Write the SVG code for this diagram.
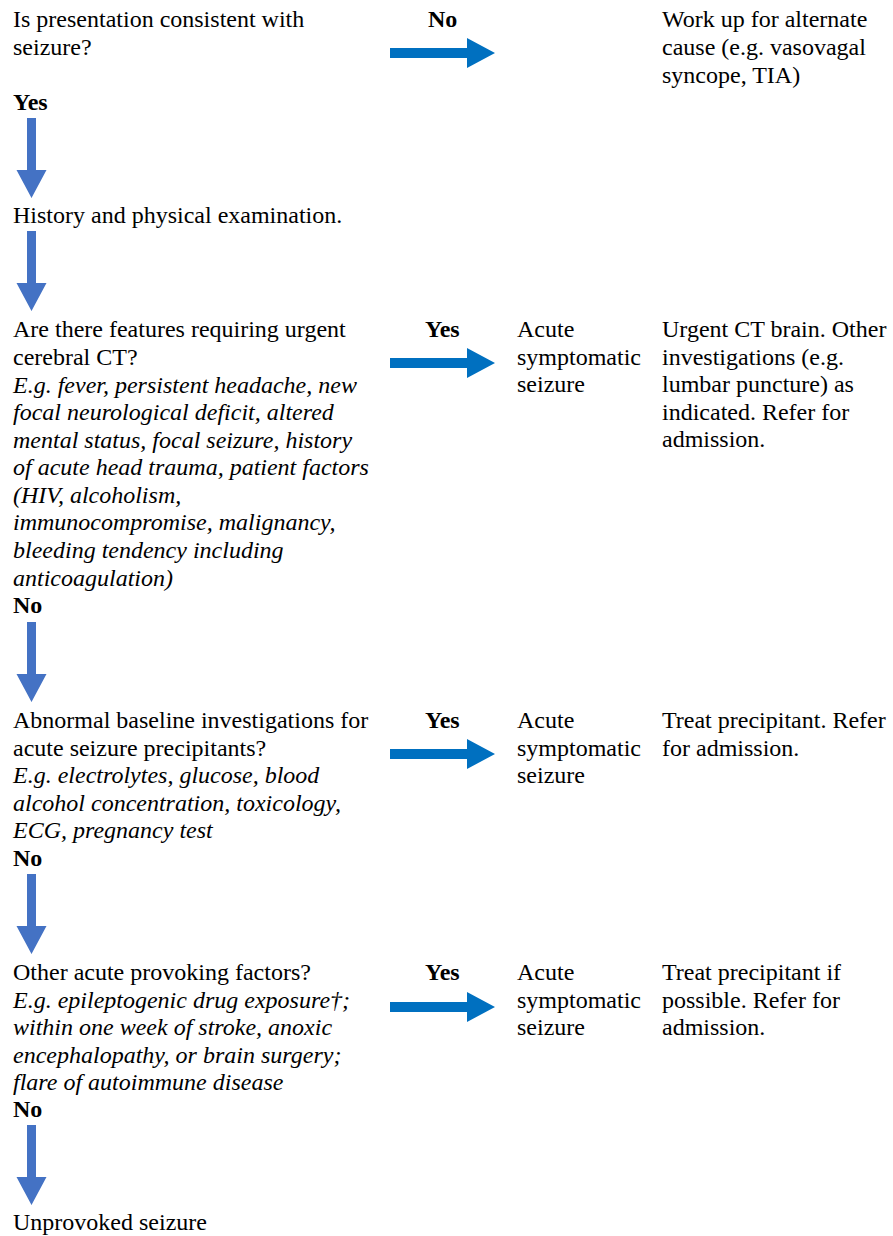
<svg xmlns="http://www.w3.org/2000/svg" xmlns:xlink="http://www.w3.org/1999/xlink" width="893" height="1236" viewBox="0 0 893 1236" font-family="'Liberation Serif', 'Times New Roman', Times, serif">
<style>
text{font-family:'Liberation Serif','Times New Roman',Times,serif;font-size:24px;fill:#000}
.b{font-weight:bold}
.i{font-style:italic}
.down{fill:#4472C4}
.right{fill:#0070C0}
</style>
<defs>
<path id="dArrow" d="M-4.5,0 H4.5 V52 H15 L0,80 L-15,52 H-4.5 Z"/>
<path id="rArrow" d="M0,-5 H77 V-15 L105,0 L77,15 V5 H0 Z"/>
</defs>
<rect width="893" height="1236" fill="#fff"/>
<g id="connectors">
<use xlink:href="#dArrow" class="down" transform="translate(31.5,118)"/>
<use xlink:href="#dArrow" class="down" transform="translate(31.5,231)"/>
<use xlink:href="#dArrow" class="down" transform="translate(31.5,622)"/>
<use xlink:href="#dArrow" class="down" transform="translate(31.5,874)"/>
<use xlink:href="#dArrow" class="down" transform="translate(31.5,1125)"/>
<use xlink:href="#rArrow" class="right" transform="translate(390,53)"/>
<use xlink:href="#rArrow" class="right" transform="translate(390,363)"/>
<use xlink:href="#rArrow" class="right" transform="translate(390,754)"/>
<use xlink:href="#rArrow" class="right" transform="translate(390,1007)"/>
<text class="b" x="428" y="27">No</text>
<text class="b" x="13" y="110">Yes</text>
<text class="b" x="425" y="337">Yes</text>
<text class="b" x="13" y="613">No</text>
<text class="b" x="425" y="728">Yes</text>
<text class="b" x="13" y="866">No</text>
<text class="b" x="425" y="980">Yes</text>
<text class="b" x="13" y="1117">No</text>
</g>
<g id="n-presentation">
<text x="13" y="27">Is presentation consistent with</text>
<text x="13" y="55">seizure?</text>
</g>
<g id="n-alternate">
<text x="662" y="27">Work up for alternate</text>
<text x="662" y="55">cause (e.g. vasovagal</text>
<text x="662" y="83">syncope, TIA)</text>
</g>
<g id="n-history">
<text x="13" y="223">History and physical examination.</text>
</g>
<g id="n-urgent-ct-q">
<text x="13" y="337">Are there features requiring urgent</text>
<text x="13" y="365">cerebral CT?</text>
<text class="i" x="13" y="393">E.g. fever, persistent headache, new</text>
<text class="i" x="13" y="420">focal neurological deficit, altered</text>
<text class="i" x="13" y="448">mental status, focal seizure, history</text>
<text class="i" x="13" y="475">of acute head trauma, patient factors</text>
<text class="i" x="13" y="503">(HIV, alcoholism,</text>
<text class="i" x="13" y="530">immunocompromise, malignancy,</text>
<text class="i" x="13" y="558">bleeding tendency including</text>
<text class="i" x="13" y="586">anticoagulation)</text>
</g>
<g id="n-acute1">
<text x="517" y="337">Acute</text>
<text x="517" y="365">symptomatic</text>
<text x="517" y="392">seizure</text>
</g>
<g id="n-urgent-ct-a">
<text x="662" y="337">Urgent CT brain. Other</text>
<text x="662" y="365">investigations (e.g.</text>
<text x="662" y="392">lumbar puncture) as</text>
<text x="662" y="420">indicated. Refer for</text>
<text x="662" y="447">admission.</text>
</g>
<g id="n-baseline-q">
<text x="13" y="728">Abnormal baseline investigations for</text>
<text x="13" y="756">acute seizure precipitants?</text>
<text class="i" x="13" y="783">E.g. electrolytes, glucose, blood</text>
<text class="i" x="13" y="811">alcohol concentration, toxicology,</text>
<text class="i" x="13" y="838">ECG, pregnancy test</text>
</g>
<g id="n-acute2">
<text x="517" y="728">Acute</text>
<text x="517" y="756">symptomatic</text>
<text x="517" y="783">seizure</text>
</g>
<g id="n-treat1">
<text x="662" y="728">Treat precipitant. Refer</text>
<text x="662" y="756">for admission.</text>
</g>
<g id="n-provoking-q">
<text x="13" y="980">Other acute provoking factors?</text>
<text class="i" x="13" y="1008">E.g. epileptogenic drug exposure†;</text>
<text class="i" x="13" y="1035">within one week of stroke, anoxic</text>
<text class="i" x="13" y="1063">encephalopathy, or brain surgery;</text>
<text class="i" x="13" y="1090">flare of autoimmune disease</text>
</g>
<g id="n-acute3">
<text x="517" y="980">Acute</text>
<text x="517" y="1008">symptomatic</text>
<text x="517" y="1035">seizure</text>
</g>
<g id="n-treat2">
<text x="662" y="980">Treat precipitant if</text>
<text x="662" y="1008">possible. Refer for</text>
<text x="662" y="1035">admission.</text>
</g>
<g id="n-unprovoked">
<text x="13" y="1230">Unprovoked seizure</text>
</g>
</svg>
